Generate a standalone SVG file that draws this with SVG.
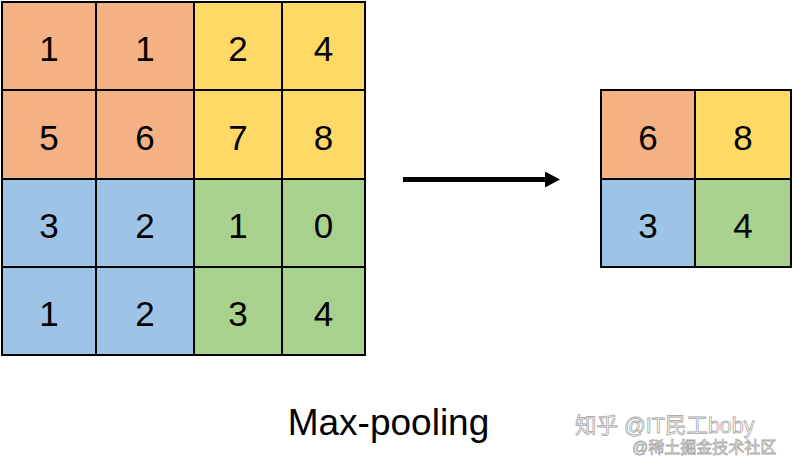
<svg xmlns="http://www.w3.org/2000/svg" width="795" height="468" viewBox="0 0 795 468">
<style>
.c{stroke:#000;stroke-width:2}
.o{fill:#F4B183}.y{fill:#FFD966}.b{fill:#9DC3E6}.g{fill:#A9D18E}
.t{font-family:"Liberation Sans",Arial,sans-serif;font-size:35px;fill:#000;text-anchor:middle}
.wm{font-family:"Liberation Sans","Noto Sans CJK SC",sans-serif;fill:#fff;stroke:#aaa;stroke-width:0.8}
</style>
<defs>
<marker id="ah" markerWidth="3" markerHeight="3.2" refX="0" refY="1.6" orient="auto" markerUnits="strokeWidth">
<path d="M0,0 L3,1.6 L0,3.2 Z" fill="#000"/>
</marker>
</defs>
<rect width="795" height="468" fill="#fff"/>
<g id="input-grid">
<g id="in-r0c0"><rect class="c o" x="2" y="2" width="94" height="88"/><text class="t" x="49" y="61">1</text></g>
<g id="in-r0c1"><rect class="c o" x="96" y="2" width="98" height="88"/><text class="t" x="145" y="61">1</text></g>
<g id="in-r0c2"><rect class="c y" x="194" y="2" width="88" height="88"/><text class="t" x="238" y="61">2</text></g>
<g id="in-r0c3"><rect class="c y" x="282" y="2" width="83" height="88"/><text class="t" x="323.5" y="61">4</text></g>
<g id="in-r1c0"><rect class="c o" x="2" y="90" width="94" height="89"/><text class="t" x="49" y="149.5">5</text></g>
<g id="in-r1c1"><rect class="c o" x="96" y="90" width="98" height="89"/><text class="t" x="145" y="149.5">6</text></g>
<g id="in-r1c2"><rect class="c y" x="194" y="90" width="88" height="89"/><text class="t" x="238" y="149.5">7</text></g>
<g id="in-r1c3"><rect class="c y" x="282" y="90" width="83" height="89"/><text class="t" x="323.5" y="149.5">8</text></g>
<g id="in-r2c0"><rect class="c b" x="2" y="179" width="94" height="88"/><text class="t" x="49" y="238">3</text></g>
<g id="in-r2c1"><rect class="c b" x="96" y="179" width="98" height="88"/><text class="t" x="145" y="238">2</text></g>
<g id="in-r2c2"><rect class="c g" x="194" y="179" width="88" height="88"/><text class="t" x="238" y="238">1</text></g>
<g id="in-r2c3"><rect class="c g" x="282" y="179" width="83" height="88"/><text class="t" x="323.5" y="238">0</text></g>
<g id="in-r3c0"><rect class="c b" x="2" y="267" width="94" height="88"/><text class="t" x="49" y="326">1</text></g>
<g id="in-r3c1"><rect class="c b" x="96" y="267" width="98" height="88"/><text class="t" x="145" y="326">2</text></g>
<g id="in-r3c2"><rect class="c g" x="194" y="267" width="88" height="88"/><text class="t" x="238" y="326">3</text></g>
<g id="in-r3c3"><rect class="c g" x="282" y="267" width="83" height="88"/><text class="t" x="323.5" y="326">4</text></g>
</g>
<g id="output-grid">
<g id="out-r0c0"><rect class="c o" x="601" y="90" width="94" height="89"/><text class="t" x="648" y="149.5">6</text></g>
<g id="out-r0c1"><rect class="c y" x="695" y="90" width="96" height="89"/><text class="t" x="743" y="149.5">8</text></g>
<g id="out-r1c0"><rect class="c b" x="601" y="179" width="94" height="88"/><text class="t" x="648" y="238">3</text></g>
<g id="out-r1c1"><rect class="c g" x="695" y="179" width="96" height="88"/><text class="t" x="743" y="238">4</text></g>
</g>
<g id="connectors">
<line x1="403" y1="179.5" x2="545" y2="179.5" stroke="#000" stroke-width="5" marker-end="url(#ah)"/>
</g>
<g id="label">
<text x="388.5" y="435" style="font-family:'Liberation Sans',Arial,sans-serif;font-size:37px;fill:#000;text-anchor:middle">Max-pooling</text>
</g>
<g id="watermark">
<text class="wm" x="575" y="433" font-size="21.5">知乎 @IT民工boby</text>
<text class="wm" x="632" y="453" font-size="16">@稀土掘金技术社区</text>
</g>
</svg>
